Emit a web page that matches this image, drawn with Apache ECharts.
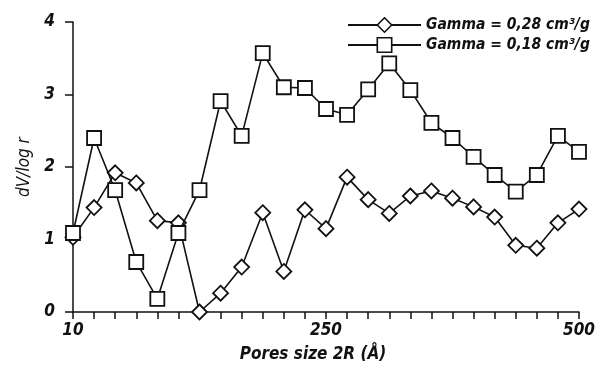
<!DOCTYPE html>
<html>
<head>
<meta charset="utf-8">
<script src="https://cdn.jsdelivr.net/npm/echarts@6/dist/echarts.min.js"></script>
<style>
  html, body { margin: 0; padding: 0; background: #fff; }
  #chart { width: 599px; height: 371px; }
</style>
</head>
<body>
<div id="chart"></div>
<script>
// x categories: pore size steps, only three carry a printed label
const poreSizes = [
  '10', '', '', '', '', '', '', '', '', '', '', '', '250',
  '', '', '', '', '', '', '', '', '', '', '', '500'
];
const gamma028 = [
  1.03, 1.44, 1.92, 1.78, 1.26, 1.23, 0.0, 0.26, 0.62, 1.37, 0.56, 1.41, 1.15,
  1.86, 1.55, 1.36, 1.60, 1.67, 1.57, 1.45, 1.31, 0.92, 0.88, 1.23, 1.42
];
const gamma018 = [
  1.09, 2.40, 1.68, 0.69, 0.18, 1.09, 1.68, 2.91, 2.43, 3.57, 3.10, 3.09, 2.80,
  2.72, 3.07, 3.43, 3.06, 2.61, 2.40, 2.14, 1.89, 1.66, 1.89, 2.43, 2.21
];
const yTicks = [0, 1, 2, 3, 4];

const FONT = '"Liberation Sans Narrow", "DejaVu Sans Condensed", "Liberation Sans", sans-serif';

const chart = echarts.init(document.getElementById('chart'));

const lineSeries = (name, data, symbol) => ({
  name,
  type: 'line',
  data,
  symbol,
  symbolSize: symbol === 'diamond' ? 15 : 14,
  showAllSymbol: true,
  lineStyle: { color: '#111', width: 1.6 },
  itemStyle: { color: '#fff', borderColor: '#111', borderWidth: 1.8 },
  emphasis: { disabled: true },
  z: symbol === 'diamond' ? 2 : 3,
});

chart.setOption({
  animation: false,
  backgroundColor: '#fff',
  grid: { left: 73, right: 20, top: 22, bottom: 59 },
  legend: {
    orient: 'vertical',
    left: 342,
    top: 12,
    itemWidth: 73,
    itemHeight: 18,
    itemGap: 4,
    itemStyle: { borderWidth: 1.6 },
    align: 'left',
    textStyle: {
      fontFamily: FONT, fontStyle: 'italic', fontWeight: 'bold',
      fontSize: 15.5, color: '#111',
    },
    data: ['Gamma = 0,28 cm³/g', 'Gamma = 0,18 cm³/g'],
  },
  xAxis: {
    type: 'category',
    data: poreSizes,
    boundaryGap: false,
    name: 'Pores size 2R (Å)',
    nameLocation: 'middle',
    nameGap: 34,
    nameTextStyle: {
      fontFamily: FONT, fontStyle: 'italic', fontWeight: 'bold',
      fontSize: 17, color: '#111', padding: [0, 26, 0, 0],
    },
    axisLine: { lineStyle: { color: '#111', width: 1.5 } },
    axisTick: { alignWithLabel: true, interval: 0, length: 7, lineStyle: { color: '#111', width: 1.5 } },
    axisLabel: {
      interval: 0,
      margin: 10,
      fontFamily: FONT, fontStyle: 'italic', fontWeight: 'bold',
      fontSize: 17, color: '#111',
    },
    splitLine: { show: false },
  },
  yAxis: {
    type: 'value',
    min: yTicks[0],
    max: yTicks[yTicks.length - 1],
    interval: 1,
    name: 'dV/log r',
    nameLocation: 'middle',
    nameGap: 38,
    nameTextStyle: {
      fontFamily: FONT, fontStyle: 'italic',
      fontSize: 17, color: '#111',
    },
    axisLine: { show: true, lineStyle: { color: '#111', width: 1.5 } },
    axisTick: { show: true, length: 8, lineStyle: { color: '#111', width: 1.5 } },
    axisLabel: {
      margin: 18,
      fontFamily: FONT, fontStyle: 'italic', fontWeight: 'bold',
      fontSize: 17, color: '#111',
    },
    splitLine: { show: false },
  },
  series: [
    lineSeries('Gamma = 0,28 cm³/g', gamma028, 'diamond'),
    lineSeries('Gamma = 0,18 cm³/g', gamma018, 'rect'),
  ],
});
</script>
</body>
</html>
